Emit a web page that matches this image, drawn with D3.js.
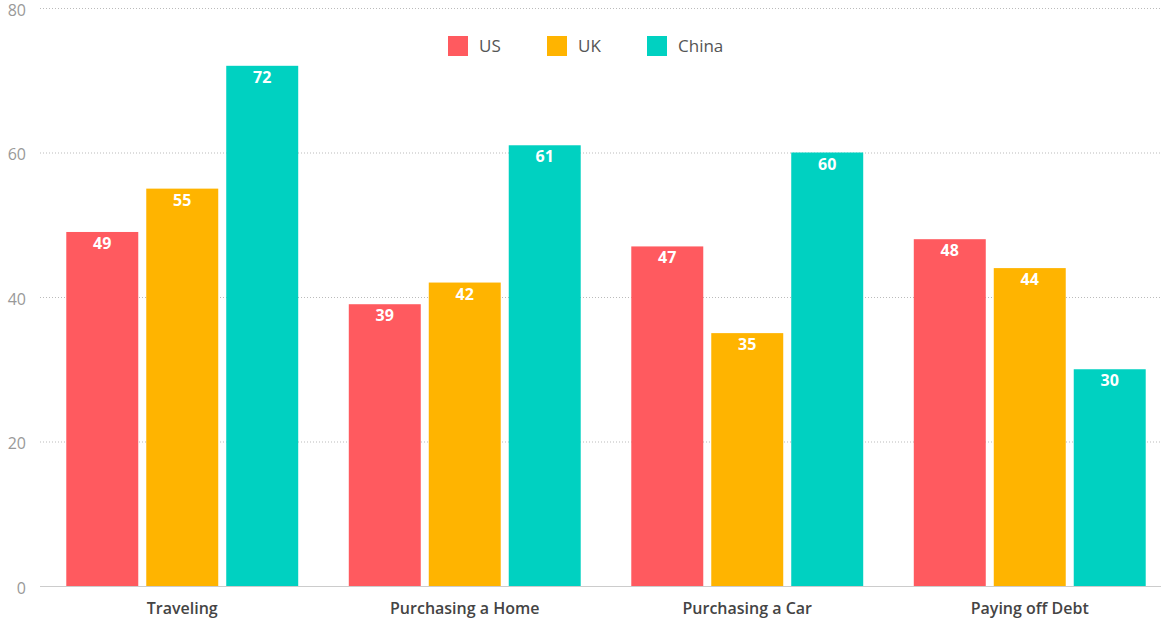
<!DOCTYPE html>
<html><head><meta charset="utf-8">
<script src="https://cdn.jsdelivr.net/npm/d3@7"></script>
<style>
body{margin:0;background:#fff;}
svg{display:block;font-family:"Open Sans",Lato,sans-serif;}
</style></head>
<body><svg id="chart" width="1161" height="622"></svg>
<script>
const categories = ["Traveling","Purchasing a Home","Purchasing a Car","Paying off Debt"];
const seriesNames = ["US","UK","China"];
const US = [49,39,47,48];
const UK = [55,42,35,44];
const China = [72,61,60,30];
const yTicks = [0,20,40,60,80];
const colors = ["#FF5A5F","#FFB400","#00D1C1"];

const seriesVals = [US,UK,China];
const data = categories.map((c,i)=>({cat:c, vals:seriesNames.map((s,j)=>({s, j, v:seriesVals[j][i]}))}));

const svg = d3.select("#chart");
const y = d3.scaleLinear().domain([0,80]).range([586,8]);
const x0 = d3.scaleBand().domain(categories).range([41,1171]).paddingInner(0.179).paddingOuter(0.0895);
const x1 = d3.scaleBand().domain(seriesNames).range([0,x0.bandwidth()]).paddingInner(0.1).paddingOuter(0);

// grid
const grid = svg.append("g");
grid.selectAll("line").data(yTicks.filter(t=>t>0)).join("line")
  .attr("x1",40).attr("x2",1161).attr("y1",d=>y(d)+0.5).attr("y2",d=>y(d)+0.5)
  .attr("stroke","#bbb").attr("stroke-width",1).attr("stroke-dasharray","1,2");
svg.append("line").attr("x1",40).attr("x2",1161).attr("y1",y(0)+0.5).attr("y2",y(0)+0.5)
  .attr("stroke","#ccc").attr("stroke-width",1);

// y axis
const yAxis = d3.axisLeft(y).tickValues(yTicks).tickSize(0).tickPadding(0);
const ya = svg.append("g").attr("transform","translate(26,0)").call(yAxis);
ya.select(".domain").remove();
ya.selectAll("text").attr("dy","0.45em").attr("fill","#999").attr("font-size",16).attr("font-family","'Open Sans', sans-serif");

// bars
const groups = svg.append("g").selectAll("g").data(data).join("g")
  .attr("transform",d=>`translate(${x0(d.cat)},0)`);
groups.selectAll("rect").data(d=>d.vals).join("rect")
  .attr("x",d=>x1(d.s)).attr("width",x1.bandwidth())
  .attr("y",d=>y(d.v)).attr("height",d=>y(0)-y(d.v))
  .attr("fill",d=>colors[d.j]);
groups.selectAll("text.val").data(d=>d.vals).join("text").attr("class","val")
  .attr("x",d=>x1(d.s)+x1.bandwidth()/2).attr("y",d=>y(d.v)+17)
  .attr("text-anchor","middle").attr("fill","#fff").attr("font-weight","bold")
  .attr("font-size",16).text(d=>d.v);

// x axis labels
const xAxis = d3.axisBottom(x0).tickSize(0).tickPadding(0);
const xa = svg.append("g").attr("transform",`translate(0,${y(0)})`).call(xAxis);
xa.select(".domain").remove();
xa.selectAll("text").attr("dy",null).attr("y",28).attr("fill","#444").attr("font-size",16).attr("font-weight","600").attr("font-family","'Open Sans', sans-serif");

// legend
const legX = [448,547,647];
const leg = svg.append("g").selectAll("g").data(seriesNames).join("g")
  .attr("transform",(d,i)=>`translate(${legX[i]},36)`);
leg.append("rect").attr("width",20).attr("height",20).attr("fill",(d,i)=>colors[i]);
leg.append("text").attr("x",31).attr("y",16).attr("fill","#555").attr("font-size",17).text(d=>d);
</script></body></html>
